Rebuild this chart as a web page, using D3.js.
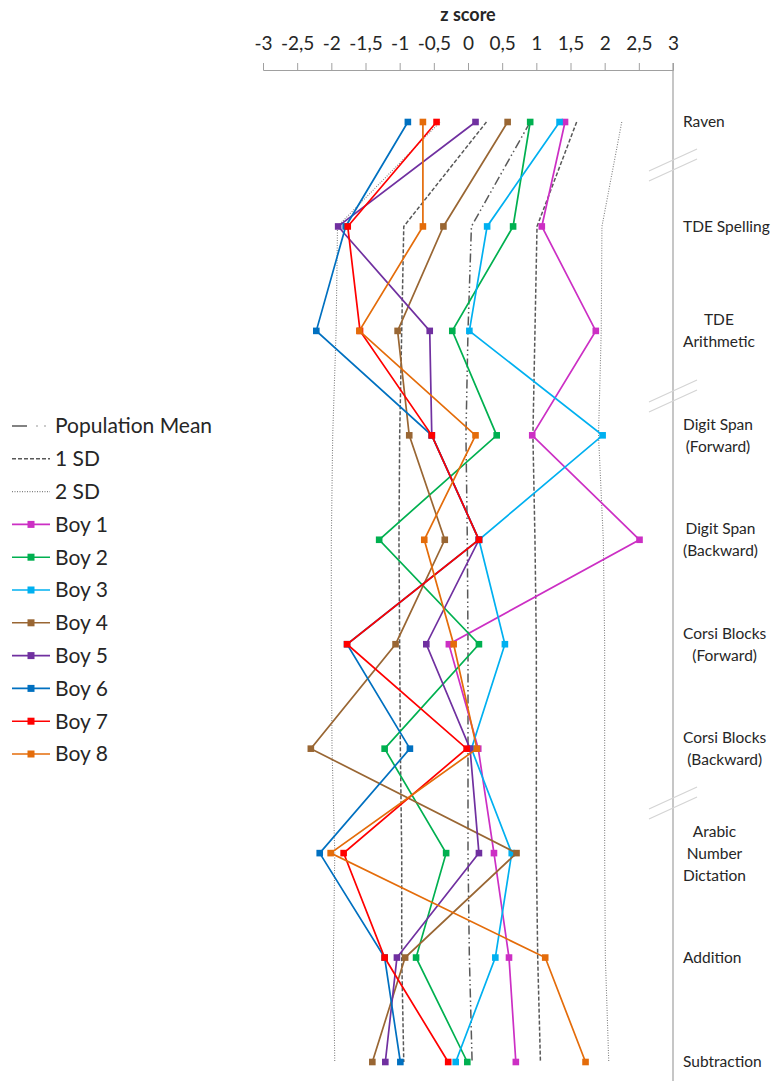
<!DOCTYPE html>
<html>
<head>
<meta charset="utf-8">
<script src="https://cdn.jsdelivr.net/npm/d3@7"></script>
<style>
  body { margin: 0; background: #fff; }
  text { font-family: Lato, "Open Sans", sans-serif; fill: #262626; }
</style>
</head>
<body>
<svg id="chart" width="771" height="1081"></svg>
<script>
// DATA
const tests = ["Raven", "TDE Spelling", "TDE Arithmetic", "Digit Span (Forward)", "Digit Span (Backward)",
  "Corsi Blocks (Forward)", "Corsi Blocks (Backward)", "Arabic Number Dictation", "Addition", "Subtraction"];
const testLabels = [["Raven"], ["TDE Spelling"], ["TDE", "Arithmetic"], ["Digit Span", "(Forward)"],
  ["Digit Span", "(Backward)"], ["Corsi Blocks", "(Forward)"], ["Corsi Blocks", "(Backward)"],
  ["Arabic", "Number", "Dictation"], ["Addition"], ["Subtraction"]];

const zTicks = [-3, -2.5, -2, -1.5, -1, -0.5, 0, 0.5, 1, 1.5, 2, 2.5, 3];

// reference lines (z score per test)
const popMean  = [0.91, 0.05, 0.00, -0.03, -0.01, 0.00, 0.00, 0.00, 0.02, 0.06];
const sdMinus1 = [0.27, -0.94, -0.97, -1.00, -1.01, -1.00, -0.99, -0.97, -0.97, -0.94];
const sdPlus1  = [1.59, 1.01, 0.98, 0.95, 0.98, 1.00, 1.00, 1.00, 1.02, 1.06];
const sdMinus2 = [-0.41, -1.91, -1.93, -1.98, -2.00, -2.00, -1.99, -1.95, -1.97, -1.95];
const sdPlus2  = [2.25, 1.96, 1.95, 1.91, 1.98, 2.00, 2.00, 2.00, 2.01, 2.06];

// boys (z score per test)
const boy1 = [1.42, 1.08, 1.87, 0.94, 2.51, -0.28, 0.15, 0.38, 0.60, 0.70];
const boy2 = [0.91, 0.66, -0.23, 0.42, -1.30, 0.16, -1.22, -0.32, -0.76, -0.01];
const boy3 = [1.34, 0.28, 0.02, 1.97, 0.16, 0.54, 0.05, 0.64, 0.40, -0.18];
const boy4 = [0.58, -0.36, -1.03, -0.86, -0.34, -1.06, -2.30, 0.71, -0.92, -1.40];
const boy5 = [0.11, -1.90, -0.56, -0.53, 0.16, -0.61, 0.03, 0.16, -1.04, -1.21];
const boy6 = [-0.88, -1.79, -2.22, -0.53, 0.16, -1.77, -0.85, -2.17, -1.22, -0.99];
const boy7 = [-0.46, -1.76, -1.58, -0.53, 0.16, -1.77, -0.02, -1.82, -1.22, -0.29];
const boy8 = [-0.66, -0.66, -1.59, 0.11, -0.64, -0.21, 0.13, -2.01, 1.13, 1.72];

const boyNames = ["Boy 1", "Boy 2", "Boy 3", "Boy 4", "Boy 5", "Boy 6", "Boy 7", "Boy 8"];
const boyColors = ["#CC2FC4", "#00B050", "#00B0F0", "#996633", "#7030A0", "#0070C0", "#FF0000", "#E46C0A"];

// SETUP
const svg = d3.select("#chart");
const x = d3.scaleLinear().domain([-3, 3]).range([263, 673]);
const y = d3.scalePoint().domain(tests).range([122, 1062]);
const axisY = 70;

// top axis
const axis = svg.append("g")
  .attr("transform", "translate(0," + axisY + ")")
  .call(d3.axisTop(x).tickValues(zTicks).tickSize(7).tickPadding(13)
    .tickFormat(d => String(d).replace(".", ",")));
axis.select(".domain").attr("stroke", "#a0a0a0");
axis.selectAll(".tick line").attr("stroke", "#a0a0a0");
axis.selectAll(".tick text").style("font-size", "19px").style("font-family", "Lato, sans-serif").attr("fill", "#262626");

svg.append("text")
  .attr("x", x(0)).attr("y", 21)
  .attr("text-anchor", "middle")
  .style("font-size", "18px").style("font-weight", "bold")
  .text("z score");

// right vertical axis
svg.append("line")
  .attr("x1", x(3)).attr("x2", x(3))
  .attr("y1", axisY - 7).attr("y2", 1081)
  .attr("stroke", "#a0a0a0").attr("stroke-width", 1.2);

// axis break marks
[165, 396, 803].forEach(cy => {
  [-5, 5].forEach(off => {
    svg.append("line")
      .attr("x1", 649).attr("y1", cy + off + 11)
      .attr("x2", 697).attr("y2", cy + off - 11)
      .attr("stroke", "#d4d4d4").attr("stroke-width", 1.2);
  });
});

// category labels
testLabels.forEach((lines, i) => {
  const g = svg.append("g");
  const cy = y(tests[i]);
  const n = lines.length;
  const texts = g.selectAll("text").data(lines).enter().append("text")
    .attr("y", (d, j) => cy + (j - (n - 1) / 2) * 22)
    .attr("dy", "0.35em")
    .attr("text-anchor", "middle")
    .style("font-size", "15.5px")
    .text(d => d);
  let maxW = 0;
  texts.each(function () { maxW = Math.max(maxW, this.getComputedTextLength()); });
  texts.attr("x", 683 + maxW / 2);
});

// DRAWING
const line = d3.line()
  .x(d => x(d.v))
  .y(d => y(d.test));
const toPts = arr => arr.map((v, i) => ({ test: tests[i], v: v }));

const refStyles = {
  mean: { color: "#595959", width: 1.5, dash: "9,3,1.5,3,1.5,3" },
  sd1: { color: "#595959", width: 1.5, dash: "4,2" },
  sd2: { color: "#808080", width: 1.1, dash: "1,1.5" }
};
[[sdMinus2, "sd2"], [sdPlus2, "sd2"], [sdMinus1, "sd1"], [sdPlus1, "sd1"], [popMean, "mean"]].forEach(([arr, k]) => {
  const s = refStyles[k];
  svg.append("path")
    .attr("d", line(toPts(arr)))
    .attr("fill", "none")
    .attr("stroke", s.color)
    .attr("stroke-width", s.width)
    .attr("stroke-dasharray", s.dash);
});

const boys = [boy1, boy2, boy3, boy4, boy5, boy6, boy7, boy8];
boys.forEach((arr, b) => {
  const g = svg.append("g");
  g.append("path")
    .attr("d", line(toPts(arr)))
    .attr("fill", "none")
    .attr("stroke", boyColors[b])
    .attr("stroke-width", 1.7);
  g.selectAll("rect").data(toPts(arr)).enter().append("rect")
    .attr("x", d => x(d.v) - 3.3)
    .attr("y", d => y(d.test) - 3.3)
    .attr("width", 6.6).attr("height", 6.6)
    .attr("fill", boyColors[b]);
});

// LEGEND
const legend = svg.append("g");
const legY0 = 426, legStep = 32.8;
const legItems = [
  { name: "Population Mean", kind: "mean" },
  { name: "1 SD", kind: "sd1" },
  { name: "2 SD", kind: "sd2" }
].concat(boyNames.map((n, i) => ({ name: n, kind: "boy", color: boyColors[i] })));

legItems.forEach((it, i) => {
  const ly = legY0 + i * legStep;
  if (it.kind === "mean") {
    legend.append("line").attr("x1", 12).attr("x2", 27).attr("y1", ly).attr("y2", ly)
      .attr("stroke", "#595959").attr("stroke-width", 1.5);
    [37, 45].forEach(cx => legend.append("circle").attr("cx", cx).attr("cy", ly).attr("r", 0.8).attr("fill", "#8a8a8a"));
  } else if (it.kind === "boy") {
    legend.append("line").attr("x1", 12).attr("x2", 50).attr("y1", ly).attr("y2", ly)
      .attr("stroke", it.color).attr("stroke-width", 1.6);
    legend.append("rect").attr("x", 27.5).attr("y", ly - 3.5).attr("width", 7).attr("height", 7)
      .attr("fill", it.color);
  } else {
    const s = refStyles[it.kind];
    legend.append("line").attr("x1", 12).attr("x2", 50).attr("y1", ly).attr("y2", ly)
      .attr("stroke", s.color).attr("stroke-width", s.width).attr("stroke-dasharray", s.dash);
  }
  legend.append("text")
    .attr("x", 55).attr("y", ly).attr("dy", "0.35em")
    .style("font-size", "21px")
    .text(it.name);
});
</script>
</body>
</html>
